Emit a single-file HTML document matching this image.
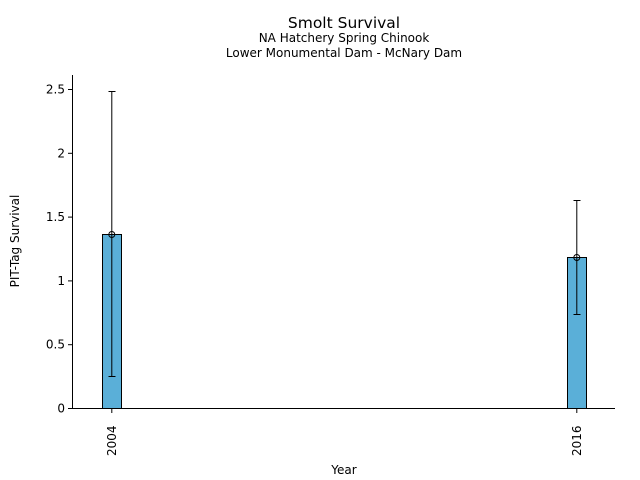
<!DOCTYPE html>
<html><head><style>body{margin:0;background:#fff}svg{display:block}text{font-family:"DejaVu Sans","Liberation Sans",sans-serif;fill:#000}</style></head>
<body>
<svg width="640" height="480" viewBox="0 0 640 480">
<text x="344" y="28" font-size="15.5" text-anchor="middle">Smolt Survival</text>
<text x="344" y="42" font-size="12" text-anchor="middle">NA Hatchery Spring Chinook</text>
<text x="344" y="57" font-size="12" text-anchor="middle">Lower Monumental Dam - McNary Dam</text>
<g stroke="#000" stroke-width="1" fill="none">
<line x1="72.5" y1="75" x2="72.5" y2="408.5"/>
<line x1="72" y1="408.5" x2="615" y2="408.5"/>
<line x1="68" y1="408.5" x2="72" y2="408.5"/>
<line x1="68" y1="344.7" x2="72" y2="344.7"/>
<line x1="68" y1="280.9" x2="72" y2="280.9"/>
<line x1="68" y1="217.1" x2="72" y2="217.1"/>
<line x1="68" y1="153.3" x2="72" y2="153.3"/>
<line x1="68" y1="89.5" x2="72" y2="89.5"/>
<line x1="111.8" y1="408.5" x2="111.8" y2="413"/>
<line x1="576.8" y1="408.5" x2="576.8" y2="413"/>
</g>
<g font-size="12" text-anchor="end">
<text x="65" y="412.5">0</text>
<text x="65" y="348.7">0.5</text>
<text x="65" y="284.9">1</text>
<text x="65" y="221.1">1.5</text>
<text x="65" y="157.3">2</text>
<text x="65" y="93.5">2.5</text>
</g>
<text transform="translate(116,456) rotate(-90)" font-size="12">2004</text>
<text transform="translate(581,456) rotate(-90)" font-size="12">2016</text>
<text x="344" y="474" font-size="12" text-anchor="middle">Year</text>
<text transform="translate(19,241) rotate(-90)" font-size="12" text-anchor="middle">PIT-Tag Survival</text>
<g stroke="#000" stroke-width="1">
<rect x="102.5" y="234.5" width="19" height="174" fill="#5aafd8"/>
<rect x="567.5" y="257.5" width="19" height="151" fill="#5aafd8"/>
<line x1="111.8" y1="91.5" x2="111.8" y2="376.5"/>
<line x1="108.5" y1="91.5" x2="115.5" y2="91.5"/>
<line x1="108.5" y1="376.5" x2="115.5" y2="376.5"/>
<circle cx="111.8" cy="234.5" r="3" fill="none"/>
<line x1="576.8" y1="200.5" x2="576.8" y2="314.5"/>
<line x1="573.5" y1="200.5" x2="580.5" y2="200.5"/>
<line x1="573.5" y1="314.5" x2="580.5" y2="314.5"/>
<circle cx="576.8" cy="257.5" r="3" fill="none"/>
</g>
</svg>
</body></html>
